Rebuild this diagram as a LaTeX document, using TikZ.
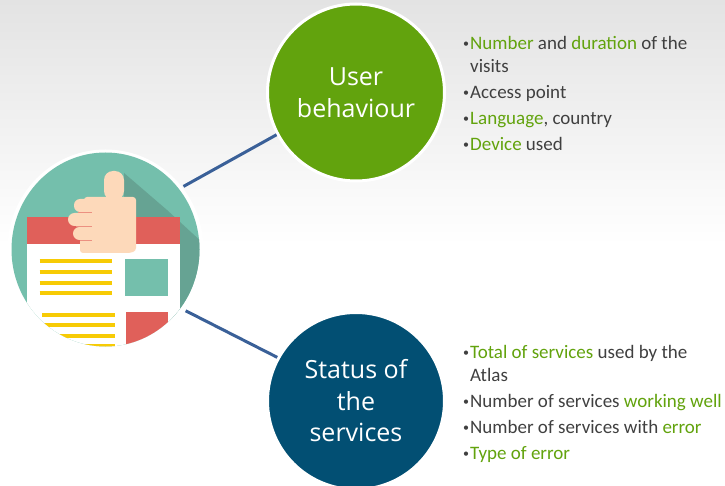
\documentclass[tikz,border=0pt]{standalone}
\usepackage{fontspec}
\setmainfont{Open Sans}
\newfontfamily\listfont{Carlito}
\definecolor{grn}{HTML}{62A30D}
\definecolor{navy}{HTML}{024F73}
\definecolor{linkc}{HTML}{3A6098}
\definecolor{txt}{HTML}{404040}
\definecolor{teal}{HTML}{74BFAC}
\definecolor{tealdk}{HTML}{66A393}
\definecolor{redc}{HTML}{E0605A}
\definecolor{yel}{HTML}{F7CB05}
\definecolor{skin}{HTML}{FDD9BA}
\newcommand{\gr}[1]{\textcolor{grn}{#1}}
\newcommand{\bu}{\leavevmode\llap{\raisebox{1.5pt}{\fontsize{12}{12}\selectfont\textbullet}\kern1pt}}
\tikzset{
 x=1pt,y=-1pt,
 bubble/.style={circle,draw=white,line width=3pt,text=white,align=center,minimum size=177pt,inner sep=0pt,font=\fontsize{25}{31.5}\selectfont},
 itemlist/.style={anchor=north west,align=left,inner sep=0pt,text=txt,font=\listfont\fontsize{19}{23}\selectfont},
 link/.style={draw=linkc,line width=3pt},
 hook/.style={circle,minimum size=202pt,inner sep=0pt,outer sep=0pt},
 bar/.style={draw=yel,line width=3.6pt}
}
\begin{document}
\begin{tikzpicture}
\useasboundingbox (0,0) rectangle (725,486);
\shade[top color=black!11,bottom color=white] (0,0) rectangle (725,245);
\fill[white] (0,245) rectangle (725,486);
% icon
\fill[white] (105.5,249.5) ellipse [x radius=98,y radius=100];
\begin{scope}
\clip (105.5,249.5) ellipse [x radius=94,y radius=97];
\fill[teal] (0,150) rectangle (210,350);
\fill[tealdk] (124,173) -- (167,210) -- (205,245) -- (205,320) -- (170,320) -- (130,240) -- (124,200) -- cycle;
\fill[redc] (27,217) rectangle (180,244);
\fill[white] (27,244) rectangle (180,350);
\foreach \yy in {261,272,283,293} \draw[bar] (39.5,\yy) -- (112,\yy);
\foreach \yy in {315,325,336,346} \draw[bar] (42,\yy) -- (115,\yy);
\fill[teal] (125,259) rectangle (168,296);
\fill[redc] (126,312) rectangle (168,350);
\end{scope}
\fill[skin,rounded corners=9pt] (104,200) -- (104,171) -- (124,171) -- (124,200) -- cycle;
\fill[skin,rounded corners=3pt] (84,197) -- (136,197) -- (136,251) -- (130,253) -- (84,253) -- cycle;
\fill[skin,rounded corners=6pt] (74,199) rectangle (95,212);
\fill[skin,rounded corners=6.5pt] (68,213) rectangle (95,226);
\fill[skin,rounded corners=6.5pt] (73,227) rectangle (95,240);
\fill[skin,rounded corners=3pt] (80,238) rectangle (95,253);
\draw[redc!60!skin,line width=0.8pt] (78,212.5) -- (92,212.5) (76,226.5) -- (92,226.5) (80,240) -- (92,240);
\node[hook] (icon) at (105,250) {};
\node[bubble,fill=grn] (user) at (356,92.5) {User\\behaviour};
\begin{scope}
\clip (0,0) rectangle (725,486);
\node[bubble,fill=navy] (status) at (356,401) {Status of\\the\\services};
\end{scope}
\draw[link] (icon.39) -- (user.208);
\draw[link] (icon.-37) -- (status.151);
\node[itemlist] (list1) at (470,36) {\bu\gr{Number} and \gr{duration} of the\\visits\\[3pt]\bu Access point\\[3pt]\bu\gr{Language}, country\\[3pt]\bu\gr{Device} used};
\node[itemlist] (list2) at (470,345) {\bu\gr{Total of services} used by the\\Atlas\\[3pt]\bu Number of services \gr{working well}\\[3pt]\bu Number of services with \gr{error}\\[3pt]\bu\gr{Type of error}};
\end{tikzpicture}
\end{document}
